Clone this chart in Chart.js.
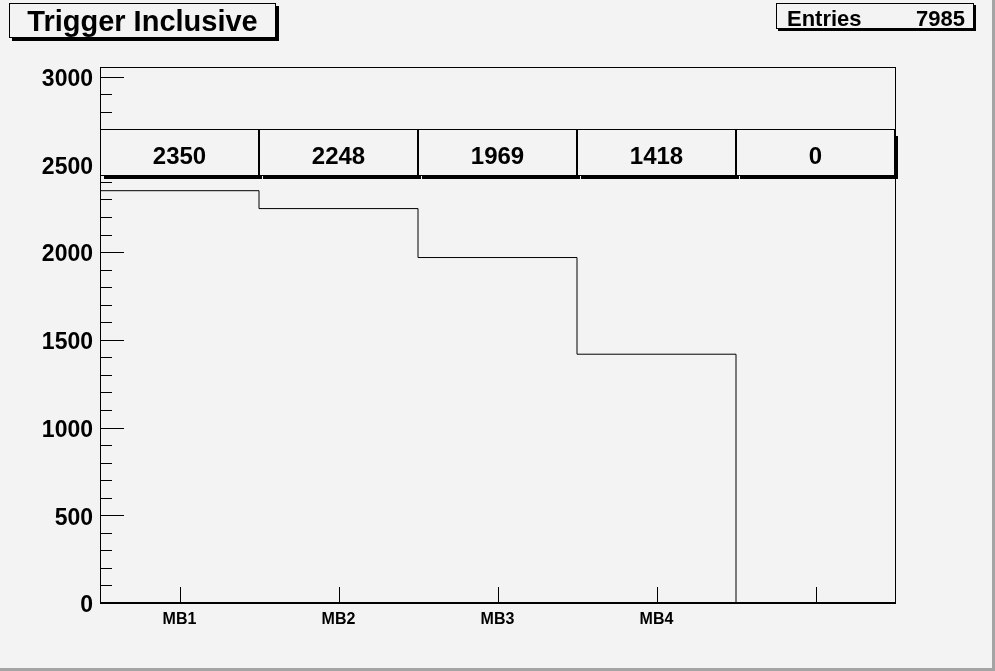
<!DOCTYPE html>
<html>
<head>
<meta charset="utf-8">
<script src="https://cdn.jsdelivr.net/npm/chart.js@4.4.1/dist/chart.umd.min.js"></script>
<style>
  html, body { margin: 0; padding: 0; background: #f3f3f3; }
  #wrap { width: 995px; height: 671px; }
</style>
</head>
<body>
<div id="wrap"><canvas id="trigChart" width="995" height="671"></canvas></div>
<script>
// Contenu des bins de l'histogramme
const binLabels = ['MB1', 'MB2', 'MB3', 'MB4', ''];
const binValues = [2350, 2248, 1969, 1418, 0];
const yMax = 3055;
const yMajorStep = 500;
const yMinorStep = 100;
const histTitle = 'Trigger Inclusive';

const FONT = '"Liberation Sans", Arial, Helvetica, sans-serif';
const BG = '#f3f3f3';

// Points de l'histogramme (bords des bins)
const histPoints = binValues.map((v, i) => ({ x: i, y: v }));
histPoints.push({ x: binValues.length, y: binValues[binValues.length - 1] });

const entries = binValues.reduce((a, b) => a + b, 0);

// Fond, cadre, graduations, cellules de texte, titre et statistiques
const rootStyle = {
    id: 'rootStyle',
    beforeDraw(chart) {
        const ctx = chart.ctx;
        ctx.save();
        ctx.fillStyle = BG;
        ctx.fillRect(0, 0, chart.width, chart.height);
        ctx.fillStyle = '#a4a4a4';
        ctx.fillRect(chart.width - 3, 0, 3, chart.height);
        ctx.fillRect(0, chart.height - 3, chart.width, 3);
        ctx.restore();
    },
    afterDraw(chart) {
        const ctx = chart.ctx;
        const area = chart.chartArea;
        const xs = chart.scales.x;
        const ys = chart.scales.y;
        ctx.save();

        // Cadre
        ctx.strokeStyle = '#000';
        ctx.lineWidth = 1;
        ctx.strokeRect(area.left + 0.5, area.top + 0.5, area.right - area.left, area.bottom - area.top);
        ctx.fillStyle = '#000';
        ctx.fillRect(area.left, area.bottom - 1, area.right - area.left + 1, 2);

        // Graduations Y (majeures et mineures)
        ctx.beginPath();
        for (let v = 0; v <= yMax; v += yMinorStep) {
            const y = Math.round(ys.getPixelForValue(v)) + 0.5;
            const len = v % yMajorStep === 0 ? 24 : 12;
            ctx.moveTo(area.left, y);
            ctx.lineTo(area.left + len, y);
        }
        // Graduations X au centre des bins
        binLabels.forEach((_, i) => {
            const x = Math.round(xs.getPixelForValue(i + 0.5)) + 0.5;
            ctx.moveTo(x, area.bottom);
            ctx.lineTo(x, area.bottom - 16);
        });
        ctx.stroke();

        // Cellules avec le contenu des bins
        const cy0 = area.top + 62;
        const cy1 = area.top + 108;
        binValues.forEach((v, i) => {
            const x0 = Math.round(xs.getPixelForValue(i));
            const x1 = Math.round(xs.getPixelForValue(i + 1));
            ctx.fillStyle = '#000';
            ctx.fillRect(x0 + 4, cy1, x1 - x0 - 1, 4);
            if (i === binValues.length - 1) {
                ctx.fillRect(x1, cy0 + 7, 3, cy1 - cy0 - 3);
            }
            ctx.fillStyle = BG;
            ctx.fillRect(x0, cy0, x1 - x0, cy1 - cy0);
            ctx.strokeStyle = '#000';
            ctx.strokeRect(x0 + 0.5, cy0 + 0.5, x1 - x0 - 1, cy1 - cy0);
            ctx.fillStyle = '#000';
            ctx.font = 'bold 24px ' + FONT;
            ctx.textAlign = 'center';
            ctx.textBaseline = 'alphabetic';
            ctx.fillText(String(v), (x0 + x1) / 2, cy0 + 35);
        });

        // Titre
        ctx.fillStyle = '#000';
        ctx.fillRect(12, 6, 267, 35);
        ctx.fillStyle = BG;
        ctx.fillRect(9, 3, 267, 35);
        ctx.strokeRect(9.5, 3.5, 266, 34);
        ctx.fillStyle = '#000';
        ctx.font = 'bold 29px ' + FONT;
        ctx.textAlign = 'center';
        ctx.fillText(histTitle, 142.5, 31);

        // Boîte de statistiques
        ctx.fillStyle = '#000';
        ctx.fillRect(778, 5, 198, 26);
        ctx.fillStyle = BG;
        ctx.fillRect(776, 3, 198, 26);
        ctx.strokeRect(776.5, 3.5, 197, 25);
        ctx.fillStyle = '#000';
        ctx.font = 'bold 22px ' + FONT;
        ctx.textAlign = 'left';
        ctx.fillText('Entries', 787, 26);
        ctx.textAlign = 'right';
        ctx.fillText(String(entries), 965, 26);

        ctx.restore();
    }
};

new Chart(document.getElementById('trigChart'), {
    type: 'line',
    data: {
        datasets: [{
            label: histTitle,
            data: histPoints,
            stepped: 'before',
            borderColor: '#000',
            borderWidth: 1,
            pointRadius: 0,
            fill: false
        }]
    },
    options: {
        responsive: false,
        animation: false,
        layout: {
            padding: { top: 67, right: 100, left: 0, bottom: 0 }
        },
        scales: {
            x: {
                type: 'linear',
                min: 0,
                max: binLabels.length,
                grid: { display: false, drawTicks: false },
                border: { display: false },
                afterBuildTicks: (scale) => {
                    scale.ticks = binLabels.map((_, i) => ({ value: i + 0.5 }));
                },
                afterFit: (scale) => { scale.height = 68; },
                ticks: {
                    autoSkip: false,
                    maxRotation: 0,
                    padding: 7,
                    color: '#000',
                    font: { family: FONT, size: 16, weight: 'bold' },
                    callback: (value, index) => binLabels[index]
                }
            },
            y: {
                min: 0,
                max: yMax,
                grid: { display: false, drawTicks: false },
                border: { display: false },
                afterBuildTicks: (scale) => {
                    const t = [];
                    for (let v = 0; v <= yMax; v += yMajorStep) t.push({ value: v });
                    scale.ticks = t;
                },
                afterFit: (scale) => { scale.width = 100; },
                ticks: {
                    padding: 7,
                    labelOffset: 3,
                    color: '#000',
                    font: { family: FONT, size: 23, weight: 'bold' },
                    callback: (value) => String(value)
                }
            }
        },
        plugins: {
            legend: { display: false },
            title: { display: false },
            tooltip: { enabled: false }
        }
    },
    plugins: [rootStyle]
});
</script>
</body>
</html>
